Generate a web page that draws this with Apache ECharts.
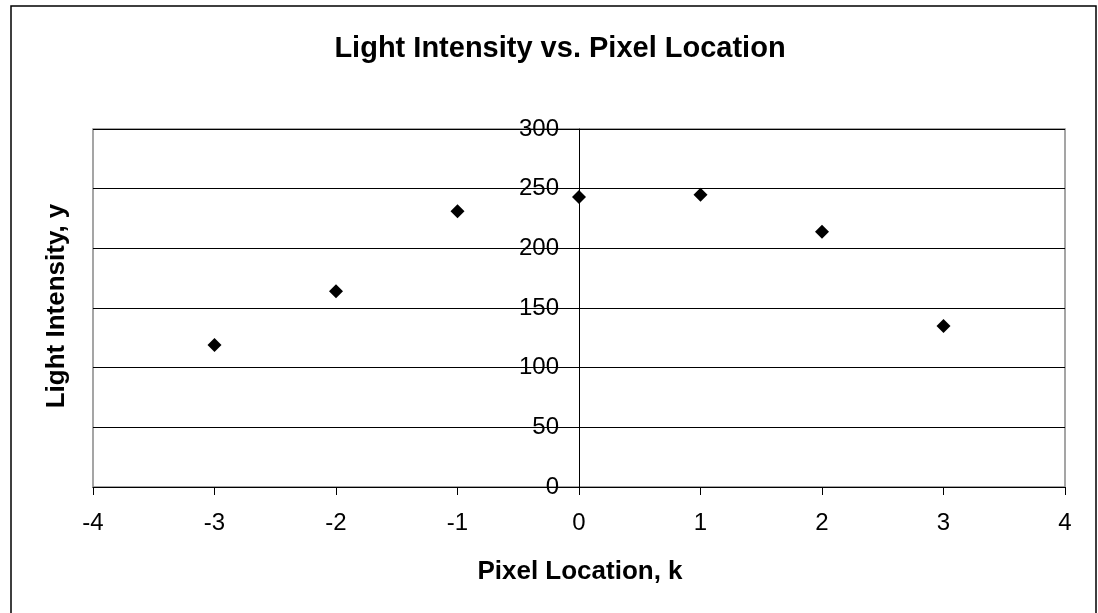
<!DOCTYPE html>
<html>
<head>
<meta charset="utf-8">
<script src="https://cdn.jsdelivr.net/npm/echarts@6/dist/echarts.min.js"></script>
<style>
html,body{margin:0;padding:0;background:#fff;}
#c{width:1098px;height:613px;}
</style>
</head>
<body>
<div id="c"></div>
<script>
var pixelLocation = [-3, -2, -1, 0, 1, 2, 3];
var lightIntensity = [119, 164, 231, 243, 245, 214, 135];
var xTicks = [-4, -3, -2, -1, 0, 1, 2, 3, 4];
var yTicks = [0, 50, 100, 150, 200, 250, 300];

var FONT = '"Liberation Sans", Arial, sans-serif';
var points = pixelLocation.map(function (k, i) { return [k, lightIntensity[i]]; });

var GRID_LEFT = 93, GRID_RIGHT = 33;
var plotW = 1098 - GRID_LEFT - GRID_RIGHT;
var xMin = xTicks[0], xMax = xTicks[xTicks.length - 1];
// y axis crosses the x axis at k = 0
var yAxisOffset = -plotW * (0 - xMin) / (xMax - xMin);

var chart = echarts.init(document.getElementById('c'), null, {renderer: 'canvas'});
chart.setOption({
  backgroundColor: '#fff',
  animation: false,
  title: {
    text: 'Light Intensity vs. Pixel Location',
    left: 555, top: 29, textAlign: 'center',
    textStyle: {fontFamily: FONT, fontSize: 29, fontWeight: 'bold', color: '#000'}
  },
  graphic: [
    {type: 'rect', shape: {x: 11, y: 6, width: 1085, height: 620}, style: {fill: 'none', stroke: '#000', lineWidth: 1.5}, z: -1},
    {type: 'text', x: 57, y: 306, rotation: Math.PI / 2, style: {text: 'Light Intensity, y', font: 'bold 26px ' + FONT, fill: '#000', align: 'center', verticalAlign: 'middle'}},
    {type: 'text', x: 580, y: 572, style: {text: 'Pixel Location, k', font: 'bold 26px ' + FONT, fill: '#000', align: 'center', verticalAlign: 'middle'}}
  ],
  grid: {left: GRID_LEFT, right: GRID_RIGHT, top: 129, bottom: 126, show: true, borderColor: '#888', borderWidth: 1.5, backgroundColor: '#fff'},
  xAxis: {
    type: 'value', min: xMin, max: xMax, interval: 1,
    axisLine: {show: true, onZero: false, lineStyle: {color: '#000', width: 1}},
    axisTick: {show: true, inside: false, length: 8, lineStyle: {color: '#000'}},
    axisLabel: {margin: 24, fontFamily: FONT, fontSize: 24, color: '#000'},
    splitLine: {show: false}
  },
  yAxis: {
    type: 'value', min: yTicks[0], max: yTicks[yTicks.length - 1], interval: 50,
    offset: yAxisOffset,
    axisLine: {show: true, onZero: false, lineStyle: {color: '#000', width: 1}},
    axisTick: {show: true, inside: false, length: 7, lineStyle: {color: '#000'}},
    axisLabel: {margin: 20, fontFamily: FONT, fontSize: 24, color: '#000'},
    splitLine: {show: true, lineStyle: {color: '#000', width: 1}}
  },
  series: [{
    type: 'scatter',
    data: points,
    symbol: 'diamond',
    symbolSize: 14,
    itemStyle: {color: '#000', opacity: 1}
  }]
});
</script>
</body>
</html>
